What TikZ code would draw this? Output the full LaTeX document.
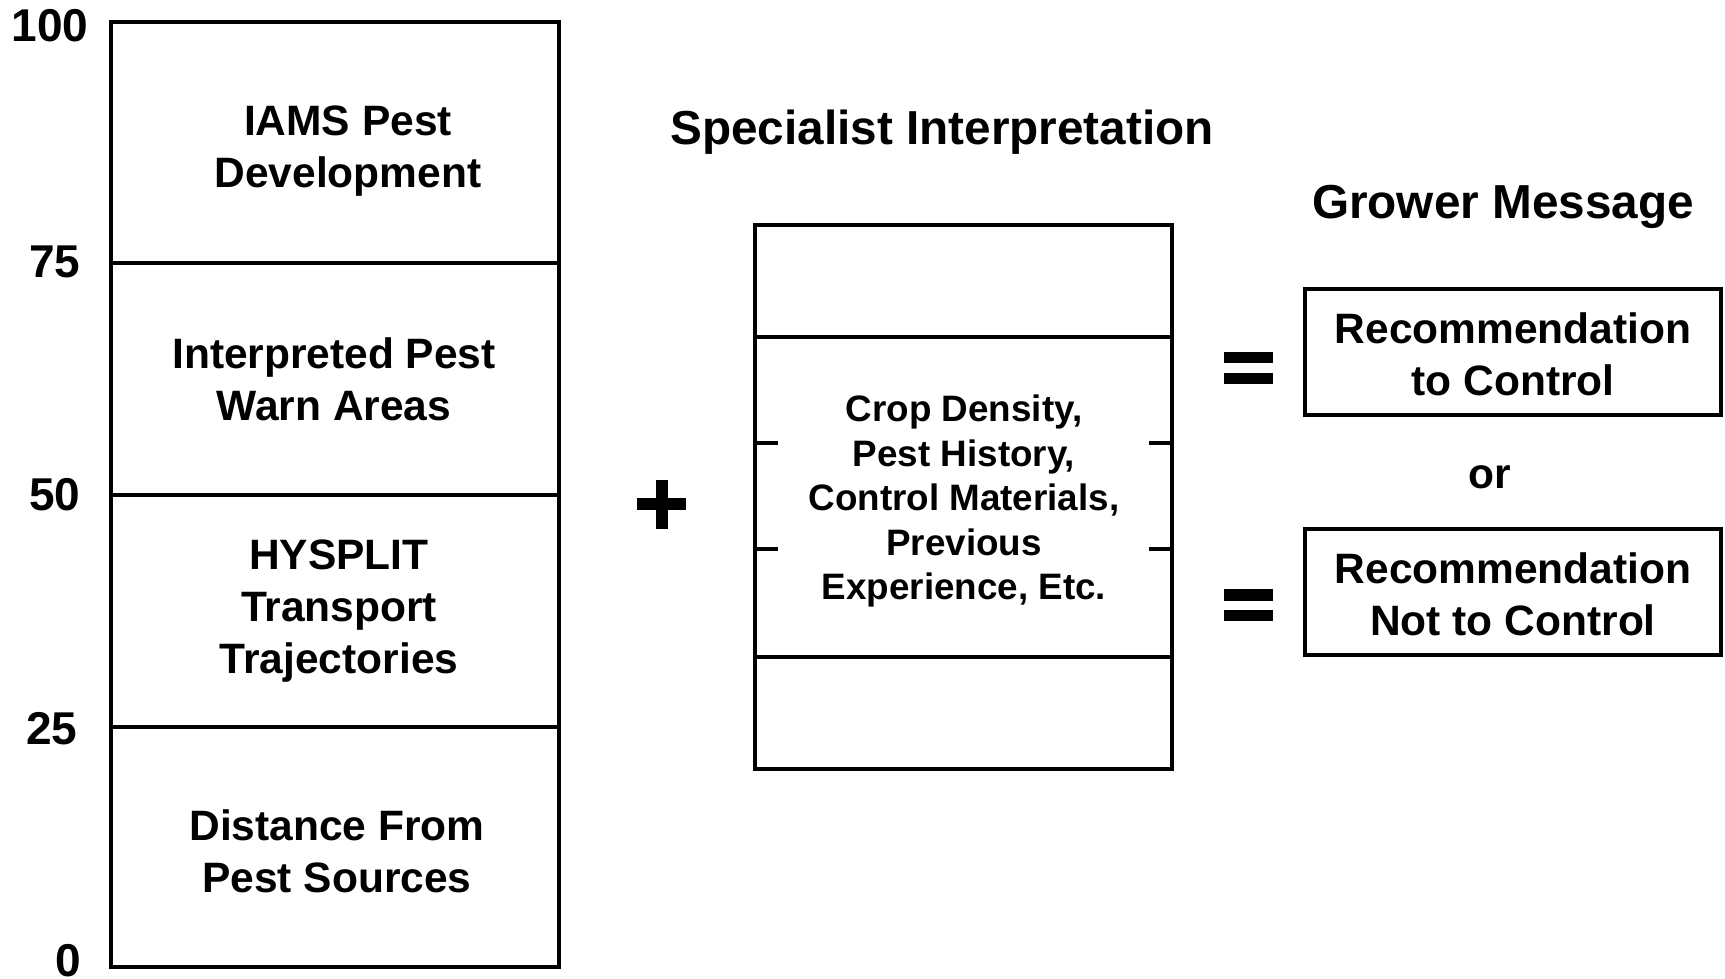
\documentclass[tikz,border=0pt]{standalone}
\usepackage{fontspec}
\setmainfont{Liberation Sans}
\begin{document}
\begin{tikzpicture}[x=1pt,y=-1pt,line width=3.3pt,
  txt/.style={font=\fontsize{42.5}{52}\selectfont\bfseries,align=center,inner sep=0pt},
  smalltxt/.style={font=\fontsize{36.8}{44.5}\selectfont\bfseries,align=center,inner sep=0pt},
  ttl/.style={font=\fontsize{47.7}{56}\selectfont\bfseries,inner sep=0pt},
  num/.style={font=\fontsize{46}{50}\selectfont\bfseries,inner sep=0pt},
  bar/.style={fill=black,draw=none}]
\useasboundingbox (0,0) rectangle (1725,978);

% axis numbers
\node[num] (n100) at (50,26) {100};
\node[num] (n75) at (55,262) {75};
\node[num] (n50) at (55,495) {50};
\node[num] (n25) at (52,729) {25};
\node[num] (n0) at (68,961) {0};

% left stacked box
\coordinate (LT) at (111,22);
\coordinate (LB) at (559,967);
\draw (LT) rectangle (LB);
\draw (111,263) -- (559,263);
\draw (111,495) -- (559,495);
\draw (111,727) -- (559,727);
\node[txt] (iams) at (348,151.5) {IAMS Pest\\Development};
\node[txt] (warn) at (334,379) {Interpreted Pest\\Warn Areas};
\node[txt] (hys) at (339,611.5) {HYSPLIT\\Transport\\Trajectories};
\node[txt] (dist) at (337,851) {Distance From\\Pest Sources};

% plus sign
\coordinate (plus) at (662,504);
\fill[bar] (637,498) rectangle (686,510);
\fill[bar] (656,480) rectangle (668,529);

% middle box
\node[ttl] (spec) at (942,132) {Specialist Interpretation};
\coordinate (MT) at (755,225);
\coordinate (MB) at (1172,769);
\draw (MT) rectangle (MB);
\draw (755,337) -- (1172,337);
\draw (755,657) -- (1172,657);
\draw (755,443) -- (778,443);
\draw (755,549) -- (778,549);
\draw (1149,443) -- (1172,443);
\draw (1149,549) -- (1172,549);
\node[smalltxt] (crop) at (964,501) {Crop Density,\\Pest History,\\Control Materials,\\Previous\\Experience, Etc.};

% equals signs
\fill[bar] (1224,352) rectangle (1273,363);
\fill[bar] (1224,373) rectangle (1273,384);
\fill[bar] (1224,589) rectangle (1273,601);
\fill[bar] (1224,610) rectangle (1273,621);

% grower message
\node[ttl] (grow) at (1503,207) {Grower Message};
\node[txt,draw,minimum width=416pt,minimum height=126pt] (rec1) at (1513,352) {};
\node[txt] (rec1t) at (1513,354) {Recommendation\\to Control};
\node[txt] (or) at (1490,477.5) {or};
\node[txt,draw,minimum width=416pt,minimum height=126pt] (rec2) at (1513,592) {};
\node[txt] (rec2t) at (1513,594) {Recommendation\\Not to Control};
\end{tikzpicture}
\end{document}
